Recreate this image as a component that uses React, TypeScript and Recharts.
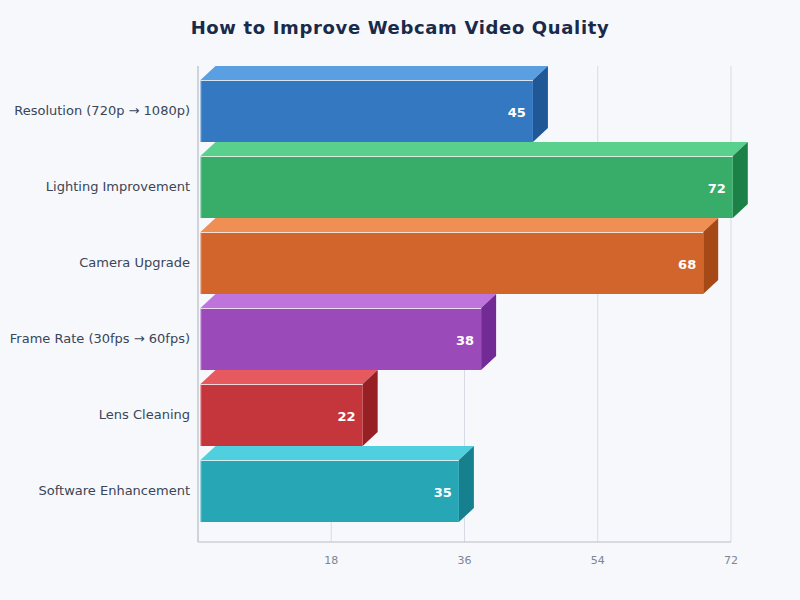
import { BarChart, Bar, XAxis, YAxis, CartesianGrid, Cell } from 'recharts';

const categories = [
  'Resolution (720p → 1080p)',
  'Lighting Improvement',
  'Camera Upgrade',
  'Frame Rate (30fps → 60fps)',
  'Lens Cleaning',
  'Software Enhancement',
];
const values = [45, 72, 68, 38, 22, 35];
const xTicks = [18, 36, 54, 72];

const frontColors = ['#3478c1', '#38ac69', '#d2652b', '#9b4ab9', '#c5363c', '#27a6b6'];
const topColors = ['#5a9fe2', '#59d08b', '#ef8f54', '#bf74dc', '#e5595f', '#50d0de'];
const sideColors = ['#1f5797', '#1c8147', '#a54a17', '#722a94', '#972024', '#17808f'];

const data = categories.map((name, i) => ({ name, value: values[i] }));

const DEPTH_X = 15;
const DEPTH_Y = 14;
const FONT = '"DejaVu Sans", sans-serif';

function Bar3D(props: any) {
  const { x, y, width, height, index, value } = props;
  const left = x + 2.5;
  const right = x + 2 + width - 0.2;
  const top = y + DEPTH_Y;
  const bottom = y + height;
  return (
    <g>
      <polygon
        points={`${left},${top} ${left + DEPTH_X},${y} ${right + DEPTH_X},${y} ${right},${top}`}
        fill={topColors[index]}
      />
      <polygon
        points={`${right},${top} ${right + DEPTH_X},${y} ${right + DEPTH_X},${bottom - DEPTH_Y} ${right},${bottom}`}
        fill={sideColors[index]}
      />
      <rect x={left} y={top} width={right - left} height={bottom - top} fill={frontColors[index]} />
      <line x1={left} y1={top + 0.5} x2={right} y2={top + 0.5} stroke="#ffffff" strokeOpacity={0.8} />
      <line x1={left + 0.5} y1={top} x2={left + 0.5} y2={bottom} stroke="#ffffff" strokeOpacity={0.3} />
      <text
        x={right - 7}
        y={top + 37}
        textAnchor="end"
        fontFamily={FONT}
        fontSize={13}
        fontWeight={700}
        fill="#ffffff"
      >
        {value}
      </text>
    </g>
  );
}

export default function App() {
  return (
    <div
      style={{
        position: 'absolute',
        left: 0,
        top: 0,
        width: 800,
        height: 600,
        background: '#f6f8fc',
        fontFamily: FONT,
      }}
    >
      <div
        style={{
          position: 'absolute',
          left: 0,
          top: 16,
          width: 800,
          textAlign: 'center',
          fontSize: 18,
          letterSpacing: 0.65,
          lineHeight: '24px',
          fontWeight: 700,
          color: '#1a2a4a',
        }}
      >
        How to Improve Webcam Video Quality
      </div>
      <BarChart
        width={800}
        height={600}
        data={data}
        layout="vertical"
        margin={{ top: 66, right: 69, bottom: 0, left: 0 }}
        barCategoryGap={0}
      >
        <CartesianGrid horizontal={false} stroke="#d8dbe3" />
        <XAxis
          type="number"
          domain={[0, 72]}
          ticks={xTicks}
          axisLine={{ stroke: '#b8bcc6' }}
          tickLine={false}
          tickMargin={8}
          height={58}
          tick={{ fontSize: 11, fill: '#7d8594', fontFamily: FONT }}
        />
        <YAxis
          type="category"
          dataKey="name"
          width={198}
          padding={{ top: 0, bottom: 20 }}
          axisLine={{ stroke: '#b8bcc6' }}
          tickLine={false}
          tickMargin={2}
          interval={0}
          tick={{ fontSize: 13, fill: '#3a4558', fontFamily: FONT, dy: 6 }}
        />
        <Bar dataKey="value" isAnimationActive={false} shape={<Bar3D />}>
          {data.map((d) => (
            <Cell key={d.name} />
          ))}
        </Bar>
      </BarChart>
    </div>
  );
}
